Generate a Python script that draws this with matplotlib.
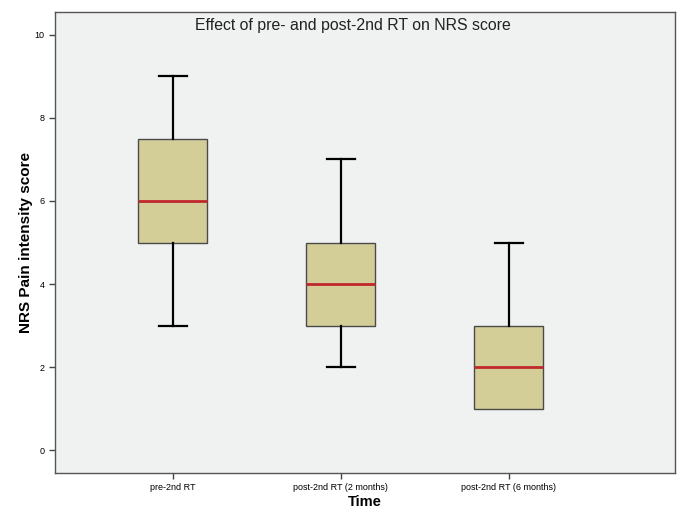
import matplotlib
matplotlib.use("Agg")
import matplotlib.pyplot as plt

plt.rcParams['font.family'] = ['Liberation Sans', 'DejaVu Sans']

# box summary values
groups = ["pre-2nd RT", "post-2nd RT (2 months)", "post-2nd RT (6 months)"]
whisker_low = [3, 2, 1]
q1 = [5, 3, 1]
median = [6, 4, 2]
q3 = [7.5, 5, 3]
whisker_high = [9, 7, 5]

stats = []
for i in range(len(groups)):
    stats.append({"label": groups[i], "whislo": whisker_low[i], "q1": q1[i],
                  "med": median[i], "q3": q3[i], "whishi": whisker_high[i],
                  "fliers": []})

fig = plt.figure(figsize=(6.77, 5.09), dpi=100)
ax = fig.add_axes([55/677, 36/509, 620/677, 461/509])
ax.set_facecolor("#f0f1f1")

bp = ax.bxp(stats, positions=[1, 2, 3], widths=0.41, patch_artist=True,
            showfliers=False,
            boxprops=dict(facecolor="#d3ce98", edgecolor="#4a4a4a", linewidth=1.0),
            medianprops=dict(color="#c0282d", linewidth=2),
            whiskerprops=dict(color="black", linewidth=1.6),
            capprops=dict(color="black", linewidth=1.6),
            capwidths=0.167)

# no lower whisker/cap when it sits on the box edge
for i in range(len(groups)):
    if whisker_low[i] == q1[i]:
        bp["caps"][2 * i].set_visible(False)
        bp["whiskers"][2 * i].set_visible(False)

ax.set_xlim(0.30, 3.99)
ax.set_ylim(-0.55, 10.55)
ax.set_yticks([0, 2, 4, 6, 8, 10])
ax.set_xticks([1, 2, 3])
ax.set_xticklabels(groups)
ax.tick_params(axis="both", labelsize=6.5, length=4, width=1, color="#444444",
               direction="out")
for s in ax.spines.values():
    s.set_color("#555555")
    s.set_linewidth(1)

ax.set_ylabel("NRS Pain intensity score", fontsize=11, fontweight="bold")
ax.yaxis.set_label_coords(-22/620, 0.5)
ax.set_xlabel("Time", fontsize=10.5, fontweight="bold")
ax.xaxis.set_label_coords(0.5, -22/461)
ax.text((353 - 55) / 620, (473 - 26) / 461, "Effect of pre- and post-2nd RT on NRS score",
        transform=ax.transAxes, ha="center", va="center", fontsize=11.4,
        color="#222222")

fig.savefig("out.png", dpi=100)
